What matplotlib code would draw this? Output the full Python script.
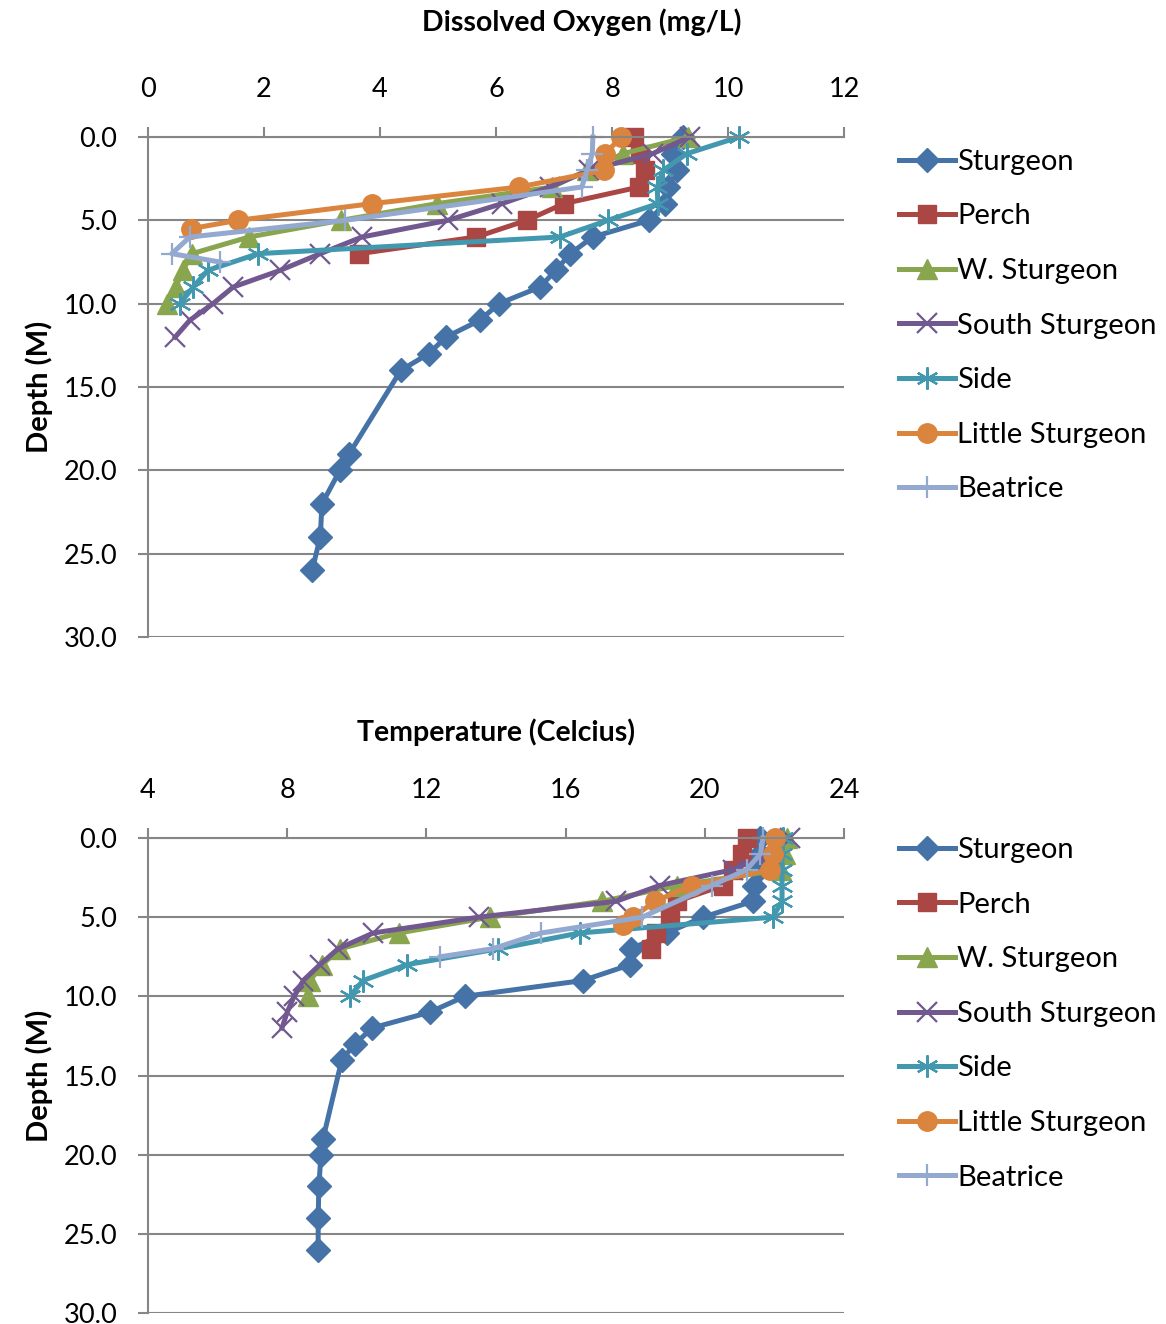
import matplotlib.pyplot as plt

plt.rcParams['font.family'] = ['Lato', 'DejaVu Sans']

# lake profiles: depth (m) -> dissolved oxygen (mg/L) and temperature (C)
names = ["Sturgeon", "Perch", "W. Sturgeon", "South Sturgeon", "Side",
         "Little Sturgeon", "Beatrice"]

depth_sturgeon = [0, 1, 2, 3, 4, 5, 6, 7, 8, 9, 10, 11, 12, 13, 14, 19, 20, 22, 24, 26]
do_sturgeon = [9.22, 9.05, 9.12, 8.97, 8.91, 8.64, 7.67, 7.28, 7.03, 6.76, 6.05,
               5.72, 5.14, 4.84, 4.36, 3.47, 3.31, 3.0, 2.97, 2.83]
temp_sturgeon = [21.6, 21.6, 21.55, 21.41, 21.38, 19.95, 18.9, 17.88, 17.86, 16.5,
                 13.11, 12.1, 10.44, 9.95, 9.57, 9.03, 8.97, 8.91, 8.89, 8.89]

depth_perch = [0, 1, 2, 3, 4, 5, 6, 7]
do_perch = [8.38, 8.48, 8.57, 8.47, 7.17, 6.53, 5.66, 3.64]
temp_perch = [21.2, 21.07, 20.81, 20.52, 19.2, 19.0, 18.6, 18.45]

depth_w = [0, 1, 2, 3, 4, 5, 6, 7, 8, 9, 10]
do_w = [9.31, 8.19, 7.57, 6.97, 4.98, 3.33, 1.74, 0.76, 0.6, 0.48, 0.33]
temp_w = [22.35, 22.3, 22.2, 19.2, 17.05, 13.83, 11.2, 9.52, 9.0, 8.66, 8.6]

depth_south = [0, 1, 2, 3, 4, 5, 6, 7, 8, 9, 10, 11, 12]
do_south = [9.34, 8.7, 7.6, 6.93, 6.1, 5.17, 3.69, 2.97, 2.28, 1.47, 1.12, 0.72, 0.47]
temp_south = [22.45, 21.87, 20.8, 18.7, 17.45, 13.5, 10.47, 9.46, 8.94, 8.46, 8.2, 8.0, 7.85]

depth_side = [0, 1, 2, 3, 4, 5, 6, 7, 8, 9, 10]
do_side = [10.19, 9.29, 8.88, 8.78, 8.79, 7.93, 7.1, 1.9, 1.03, 0.78, 0.55]
temp_side = [22.25, 22.22, 22.22, 22.22, 22.22, 21.95, 16.4, 14.06, 11.44, 10.18, 9.8]

depth_little = [0, 1, 2, 3, 4, 5, 5.5]
do_little = [8.16, 7.88, 7.86, 6.4, 3.86, 1.55, 0.74]
temp_little = [22.02, 21.95, 21.87, 19.63, 18.57, 17.94, 17.65]

depth_beatrice = [0, 1, 2, 3, 5, 6, 7, 7.5]
do_beatrice = [7.67, 7.66, 7.57, 7.48, 3.4, 0.72, 0.41, 1.24]
temp_beatrice = [21.67, 21.6, 21.2, 20.2, 18.2, 15.3, 13.9, 12.4]

depths = [depth_sturgeon, depth_perch, depth_w, depth_south, depth_side,
          depth_little, depth_beatrice]
oxygen = [do_sturgeon, do_perch, do_w, do_south, do_side, do_little, do_beatrice]
temps = [temp_sturgeon, temp_perch, temp_w, temp_south, temp_side, temp_little,
         temp_beatrice]

colors = ["#4572A7", "#AA4643", "#89A54E", "#71588F", "#4198AF", "#DB843D", "#93A9CF"]
markers = ["D", "s", "^", "x", (6, 2, 0), "o", "+"]
msizes = [12, 13, 14, 14, 16, 14, 16]
mews = [1, 1, 1, 1.6, 1.6, 1, 1.6]

GRID = "#868686"
W, H = 1166, 1324

fig = plt.figure(figsize=(W / 100, H / 100), dpi=100)


def px_axes(left, top, right, bottom):
    return fig.add_axes([left / W, 1 - bottom / H, (right - left) / W, (bottom - top) / H])


def style(ax, xlim, xticks):
    ax.set_xlim(*xlim)
    ax.set_ylim(30, 0)
    ax.set_xticks(xticks)
    ax.set_yticks(range(0, 31, 5))
    ax.set_yticklabels(["%.1f" % v for v in range(0, 31, 5)])
    ax.xaxis.tick_top()
    for side in ["right", "bottom"]:
        ax.spines[side].set_visible(False)
    for side in ["left", "top"]:
        ax.spines[side].set_color(GRID)
        ax.spines[side].set_linewidth(1.5)
    ax.tick_params(axis="x", direction="out", length=7, width=1.5, color=GRID,
                   labelsize=19.5, pad=18)
    ax.tick_params(axis="y", direction="out", length=7, width=1.5, color=GRID,
                   labelsize=19.5, pad=15)
    ax.yaxis.grid(True, color=GRID, linewidth=1.5)
    ax.set_axisbelow(True)
    ax.set_ylabel("Depth (M)", fontsize=21, fontweight="bold", labelpad=8)


def draw(ax, values, legend_top):
    for i in range(len(names)):
        ax.plot(values[i], depths[i], color=colors[i], linewidth=3.6,
                marker=markers[i], markersize=msizes[i], markeredgewidth=mews[i],
                markerfacecolor=colors[i], markeredgecolor=colors[i],
                label=names[i], clip_on=False)
    ax.legend(loc="upper left", bbox_to_anchor=(1.075, legend_top), frameon=False,
              fontsize=21, handlelength=1.9, handletextpad=0.1,
              labelspacing=0.98, borderaxespad=0, borderpad=0.1)


ax1 = px_axes(148, 137, 844, 637)
style(ax1, (0, 12), range(0, 13, 2))
draw(ax1, oxygen, 0.982)
fig.text(582 / W, 1 - 22 / H, "Dissolved Oxygen (mg/L)", ha="center", va="center",
         fontsize=20.5, fontweight="bold")

ax2 = px_axes(148, 838, 844, 1313)
style(ax2, (4, 24), range(4, 25, 4))
draw(ax2, temps, 1.008)
fig.text(496 / W, 1 - 732 / H, "Temperature (Celcius)", ha="center", va="center",
         fontsize=20.5, fontweight="bold")

fig.savefig("out.png", dpi=100)
